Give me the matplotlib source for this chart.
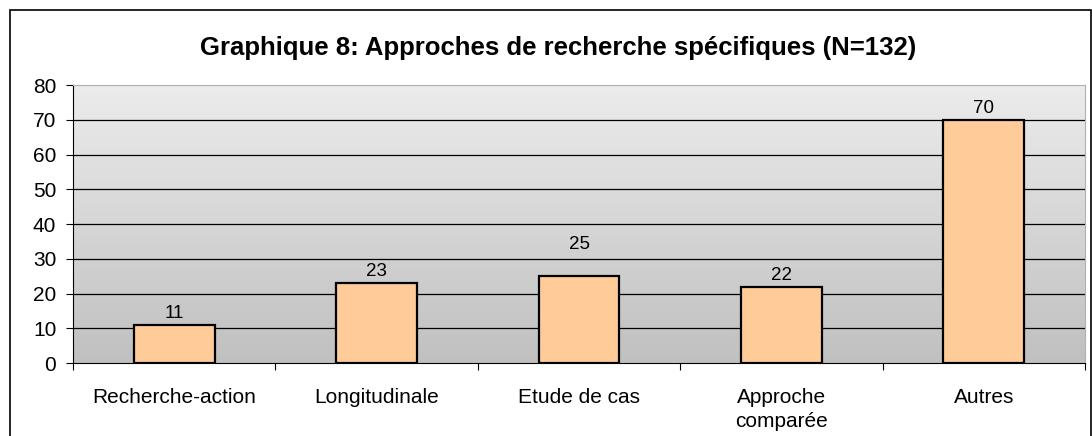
import numpy as np
import matplotlib.pyplot as plt
from matplotlib.patches import Rectangle

categories = ['Recherche-action', 'Longitudinale', 'Etude de cas', 'Approche\ncomparée', 'Autres']
values = [11, 23, 25, 22, 70]
yticks = [0, 10, 20, 30, 40, 50, 60, 70, 80]

plt.rcParams['font.family'] = ['Liberation Sans', 'DejaVu Sans']

W, H = 1092, 436
fig = plt.figure(figsize=(W / 100, H / 100), dpi=100)
# cadre exterieur
fig.patches.append(Rectangle((10 / W, -0.1), (W - 11) / W, (H - 10) / H + 0.1,
                             transform=fig.transFigure, fill=False,
                             edgecolor='black', lw=1.2))

ax = fig.add_axes([73 / W, (H - 363) / H, (1085 - 73) / W, (363 - 85) / H])
x = np.arange(len(categories))
ax.set_xlim(-0.5, len(categories) - 0.5)
ax.set_ylim(0, 80)

# fond en degrade gris
grad = np.linspace(0, 1, 256).reshape(-1, 1)
ax.imshow(grad, cmap=plt.matplotlib.colors.LinearSegmentedColormap.from_list(
    'g', ['#c0c0c0', '#ececec']), origin='lower', aspect='auto',
    extent=(-0.5, len(categories) - 0.5, 0, 80), zorder=0)

for t in yticks[1:-1]:
    ax.axhline(t, color='black', lw=0.9, zorder=1)

bars = ax.bar(x, values, width=0.4, color='#ffcc99', edgecolor='black', lw=1.6, zorder=2)
for i, (b, v) in enumerate(zip(bars, values)):
    extra = 15 if i == 2 else 0  # etiquette decalee dans l'original
    ax.annotate(str(v), (b.get_x() + b.get_width() / 2, v), xytext=(0, 8 + extra),
                textcoords='offset points', ha='center', va='center', fontsize=13.5)

ax.set_yticks(yticks)
ax.set_xticks(x)
ax.set_xticklabels(categories, fontsize=15, linespacing=1.35)
ax.tick_params(axis='y', labelsize=15, length=5, width=0.8, pad=7)
ax.tick_params(axis='x', length=0, pad=18)
ax.set_xticks(np.arange(len(categories) + 1) - 0.5, minor=True)
ax.tick_params(axis='x', which='minor', length=5, width=0.8)

for s in ['top', 'right']:
    ax.spines[s].set_color('#b0b0b0')
ax.spines['left'].set_color('black')
ax.spines['bottom'].set_color('black')

fig.text(558 / W, (H - 48) / H, 'Graphique 8: Approches de recherche spécifiques (N=132)',
         ha='center', va='center', fontsize=18.5, fontweight='bold')

fig.savefig('out.png', dpi=100)
